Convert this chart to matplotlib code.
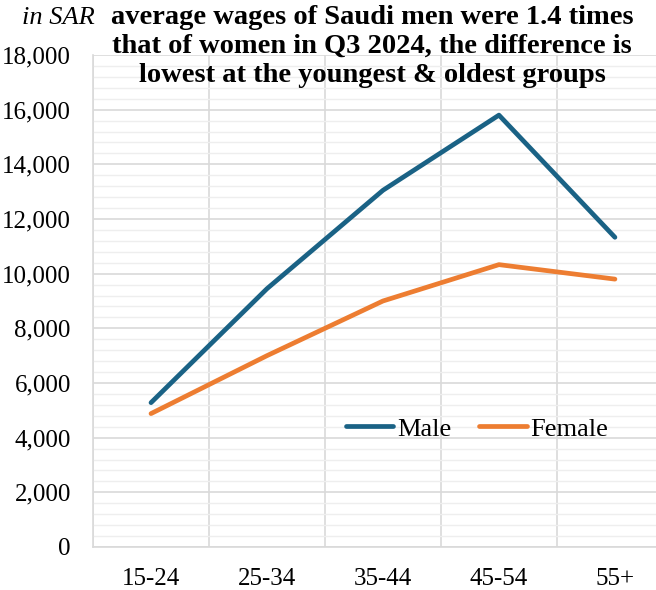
import matplotlib
matplotlib.use("Agg")
import matplotlib.pyplot as plt
from matplotlib.ticker import MultipleLocator, FuncFormatter

# Average monthly wages (SAR) by age group, Q3 2024
age_groups = ["15-24", "25-34", "35-44", "45-54", "55+"]
male = [5280, 9450, 13050, 15800, 11330]
female = [4880, 7000, 9000, 10330, 9800]

plt.rcParams["font.family"] = ["Liberation Serif", "DejaVu Serif"]

fig = plt.figure(figsize=(6.56, 5.90), dpi=100)
ax = fig.add_axes([0.1418, 0.0729, 0.884, 0.8339])

x = list(range(len(age_groups)))
ax.plot(x, male, color="#1a6285", lw=3.4, solid_capstyle="round", label="Male", zorder=3)
ax.plot(x, female, color="#ed7d31", lw=3.4, solid_capstyle="round", label="Female", zorder=3)

ax.set_xlim(-0.5, len(age_groups) - 0.5)
ax.set_ylim(0, 18000)
ax.set_xticks(x)
ax.set_xticklabels(age_groups)
ax.xaxis.set_minor_locator(MultipleLocator(1, offset=0.5))
ax.yaxis.set_major_locator(MultipleLocator(2000))
ax.yaxis.set_minor_locator(MultipleLocator(400))
ax.yaxis.set_major_formatter(FuncFormatter(lambda v, p: f"{int(v):,}"))

ax.grid(which="major", axis="y", color="#d9d9d9", lw=1.2)
ax.grid(which="minor", axis="y", color="#eeeeee", lw=1.0)
ax.grid(which="minor", axis="x", color="#d9d9d9", lw=1.2)
ax.set_axisbelow(True)

ax.tick_params(which="both", length=0)
ax.tick_params(axis="y", labelsize=18, pad=16)
ax.tick_params(axis="x", labelsize=18, pad=15)
for side in ["top", "right"]:
    ax.spines[side].set_visible(False)
for side in ["left", "bottom"]:
    ax.spines[side].set_color("#d9d9d9")
    ax.spines[side].set_linewidth(1.2)

ax.legend(loc="center left", bbox_to_anchor=(0.413, 0.24), ncol=2, frameon=False,
          fontsize=19, handlelength=1.8, handletextpad=0.15, columnspacing=1.05,
          borderpad=0)

fig.text(0.567, 0.992, "average wages of Saudi men were 1.4 times\n"
         "that of women in Q3 2024, the difference is\n"
         "lowest at the youngest & oldest groups",
         ha="center", va="top", fontsize=20.5, fontweight="bold", linespacing=1.22)
fig.text(0.033, 0.988, "in SAR", ha="left", va="top", fontsize=19, style="italic")

fig.savefig("out.png", dpi=100)
